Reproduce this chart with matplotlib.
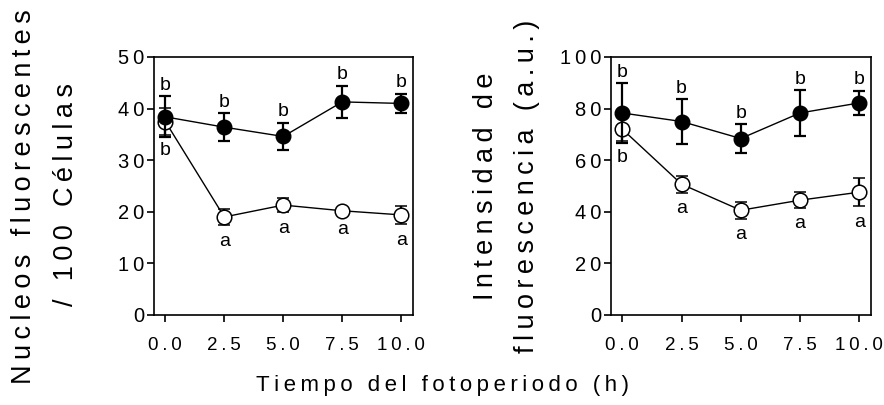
import numpy as np
import matplotlib.pyplot as plt

# data
tiempo = [0.0, 2.5, 5.0, 7.5, 10.0]

nucleos_lleno = [38.4, 36.4, 34.6, 41.3, 41.0]
nucleos_lleno_err = [4.0, 2.7, 2.7, 3.1, 1.9]
nucleos_vacio = [37.5, 19.0, 21.3, 20.2, 19.4]
nucleos_vacio_err = [2.6, 1.6, 1.4, 0.5, 1.8]
nucleos_letras_lleno = ['b', 'b', 'b', 'b', 'b']
nucleos_letras_vacio = ['b', 'a', 'a', 'a', 'a']

intens_lleno = [78.3, 75.0, 68.4, 78.3, 82.2]
intens_lleno_err = [11.5, 8.7, 5.6, 8.8, 4.7]
intens_vacio = [72.0, 50.7, 40.6, 44.5, 47.6]
intens_vacio_err = [4.6, 3.3, 3.2, 3.0, 5.4]
intens_letras_lleno = ['b', 'b', 'b', 'b', 'b']
intens_letras_vacio = ['b', 'a', 'a', 'a', 'a']

FAM = ['Liberation Sans', 'DejaVu Sans']
plt.rcParams['font.family'] = FAM


def sp(s, sep='\u2009'):
    # fake letter spacing
    return sep.join(list(s))


def panel(ax, y1, e1, y2, e2, let1, let2, ymax, ystep):
    ax.errorbar(tiempo, y2, yerr=e2, fmt='-o', color='black', mfc='white',
                mec='black', ms=10.5, lw=1, elinewidth=1.6, capsize=4.5,
                capthick=1.6, mew=1.1, zorder=3)
    ax.errorbar(tiempo, y1, yerr=e1, fmt='-o', color='black', mfc='black',
                ms=10.5, lw=1, elinewidth=1.6, capsize=4.5, capthick=1.6,
                zorder=4)
    for x, y, e, t in zip(tiempo, y1, e1, let1):
        ax.annotate(t, (x, y + e), xytext=(0, 11), textcoords='offset pixels',
                    ha='center', va='center', fontsize=14)
    for x, y, e, t in zip(tiempo, y2, e2, let2):
        ax.annotate(t, (x, y - e), xytext=(0, -16), textcoords='offset pixels',
                    ha='center', va='center', fontsize=14)
    ax.set_xlim(-0.48, 10.5)
    ax.set_ylim(0, ymax)
    ax.set_xticks(tiempo)
    ax.set_xticklabels([sp('%.1f' % v) for v in tiempo], fontsize=13.5)
    yt = np.arange(0, ymax + 1, ystep)
    ax.set_yticks(yt)
    ax.set_yticklabels([sp(str(int(v))) for v in yt], fontsize=14.5)
    ax.tick_params(axis='x', direction='out', length=5, width=1.2, pad=11)
    ax.tick_params(axis='y', direction='out', length=5, width=1.2, pad=2)
    for s in ax.spines.values():
        s.set_linewidth(1.2)


fig = plt.figure(figsize=(8.84, 4.05), dpi=100)
ax1 = fig.add_axes([154 / 884, 90 / 405, 259 / 884, 258 / 405])
ax2 = fig.add_axes([611 / 884, 90 / 405, 260 / 884, 258 / 405])

panel(ax1, nucleos_lleno, nucleos_lleno_err, nucleos_vacio, nucleos_vacio_err,
      nucleos_letras_lleno, nucleos_letras_vacio, 50, 10)
panel(ax2, intens_lleno, intens_lleno_err, intens_vacio, intens_vacio_err,
      intens_letras_lleno, intens_letras_vacio, 100, 20)

fig.text(24 / 884, 1 - 197 / 405, sp('Nucleos fluorescentes'), rotation=90,
         ha='center', va='center', fontsize=19.5)
fig.text(66 / 884, 1 - 195 / 405, sp('/ 100 Células'), rotation=90,
         ha='center', va='center', fontsize=19.5)
fig.text(486 / 884, 1 - 186 / 405, sp('Intensidad de'), rotation=90,
         ha='center', va='center', fontsize=19.5)
fig.text(527 / 884, 1 - 186 / 405, sp('fluorescencia (a.u.)'), rotation=90,
         ha='center', va='center', fontsize=19.5)
fig.text(442 / 884, 1 - 385 / 405, sp('Tiempo del fotoperiodo (h)'),
         ha='center', va='center', fontsize=16)

fig.savefig('out.png', dpi=100)
